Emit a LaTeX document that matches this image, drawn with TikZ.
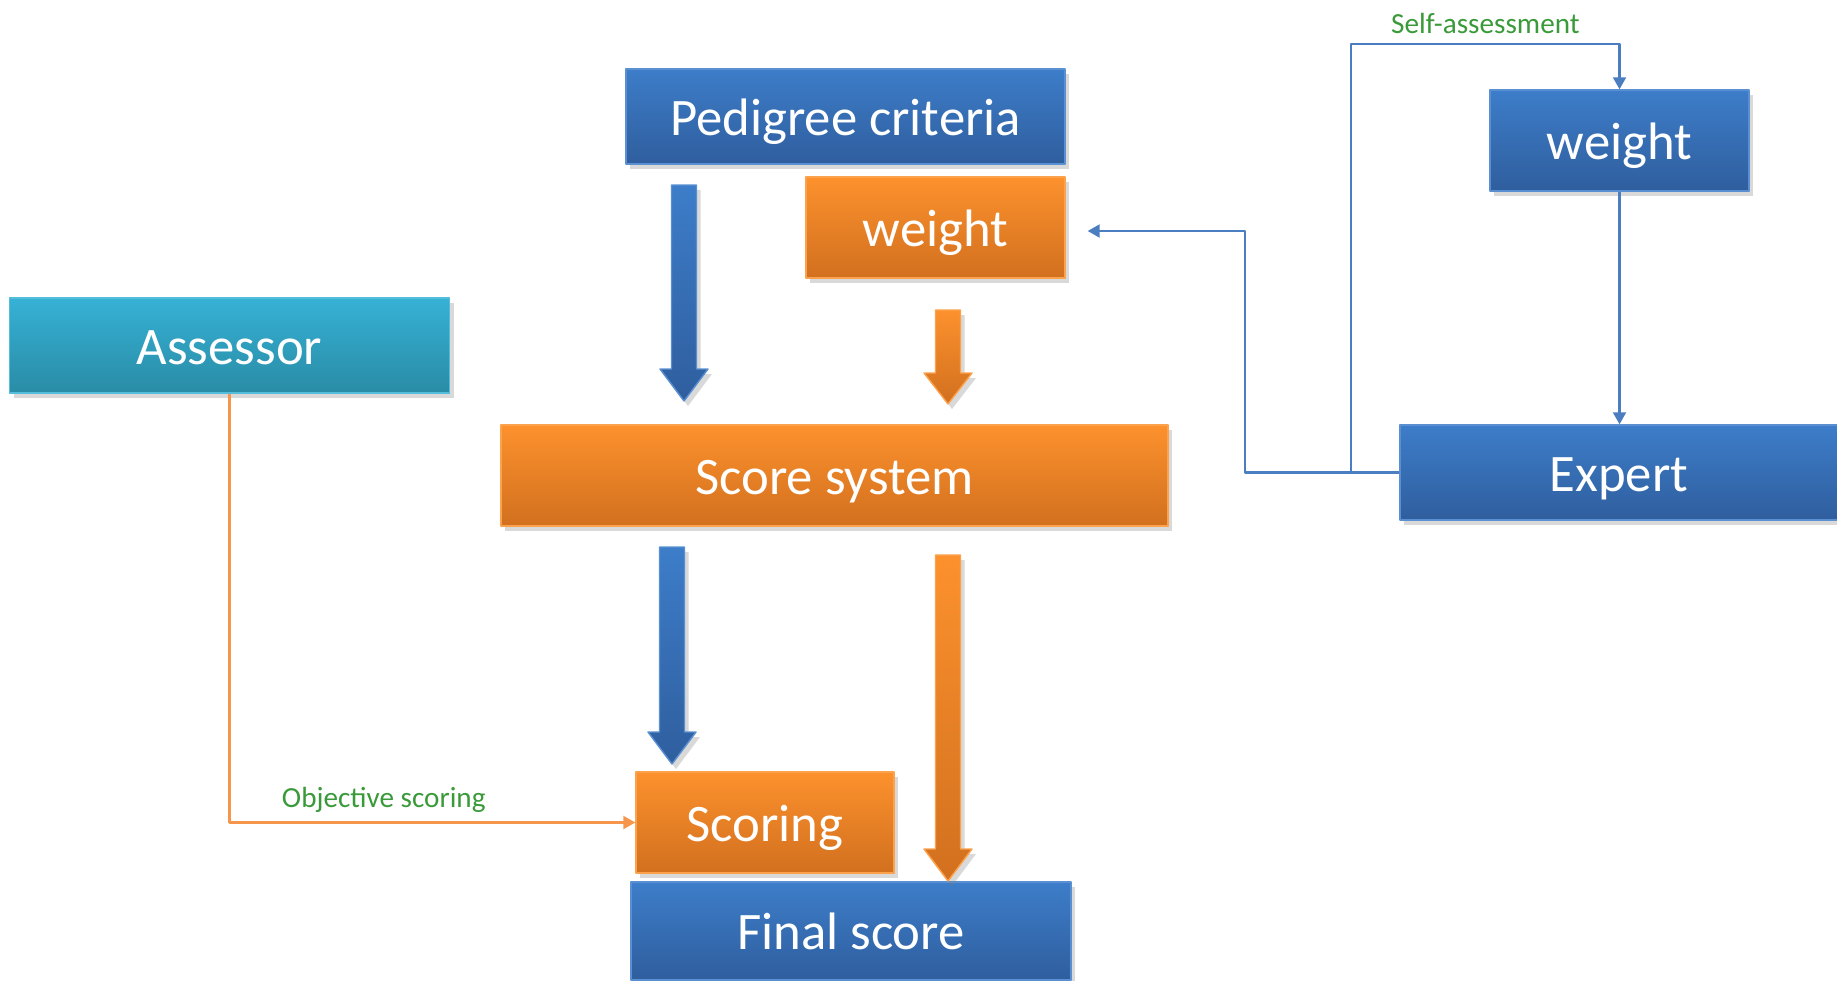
\documentclass[tikz,border=0pt]{standalone}
\usepackage{fontspec}
\setmainfont{Carlito}
\usetikzlibrary{arrows.meta,calc,shadows}
\definecolor{topblue}{RGB}{61,125,201}
\definecolor{botblue}{RGB}{47,94,158}
\definecolor{toporange}{RGB}{252,145,45}
\definecolor{botorange}{RGB}{210,112,31}
\definecolor{topcyan}{RGB}{54,177,213}
\definecolor{botcyan}{RGB}{41,140,166}
\definecolor{linkblue}{RGB}{74,126,193}
\definecolor{linkorange}{RGB}{246,150,76}
\definecolor{labelgreen}{RGB}{58,154,58}
\tikzset{
  softshadow/.style={drop shadow={shadow xshift=0.4mm, shadow yshift=-0.5mm, opacity=0.3}},
  box/.style={rectangle, inner sep=0pt, text=white, line width=0.4pt,
    text height=10.6pt, text depth=0pt,
    font=\fontsize{15}{18}\selectfont, softshadow},
  bluebox/.style={box, top color=topblue, bottom color=botblue, draw=topblue!85!white},
  orangebox/.style={box, top color=toporange, bottom color=botorange, draw=toporange!85!white},
  cyanbox/.style={box, top color=topcyan, bottom color=botcyan, draw=topcyan!85!white},
  bluelink/.style={draw=linkblue, line width=0.6pt, -{Triangle[width=1.3mm,length=1.2mm]}},
  orangelink/.style={draw=linkorange, line width=0.6pt, -{Triangle[width=1.3mm,length=1.2mm]}},
  linklabel/.style={above=1.5pt, inner sep=1pt, text=labelgreen, font=\fontsize{8.3}{10}\selectfont}
}
\begin{document}
\begin{tikzpicture}[x=0.1mm, y=-0.1mm, line join=round]
  \useasboundingbox (0,0) rectangle (1837,980);
  % boxes
  \node[bluebox, minimum width=43.9mm, minimum height=9.5mm] (pedigree) at (845.5,116.5) {Pedigree criteria};
  \node[orangebox, minimum width=25.9mm, minimum height=10.1mm] (wtleft) at (935.5,227.5) {weight};
  \node[cyanbox, minimum width=44mm, minimum height=9.5mm] (assessor) at (229.5,345.5) {Assessor};
  \node[orangebox, minimum width=66.7mm, minimum height=10.1mm] (scoresys) at (834.5,475.5) {Score system};
  \node[bluebox, minimum width=25.9mm, minimum height=10.1mm] (wtright) at (1619.5,140.5) {weight};
  \node[bluebox, minimum width=43.8mm, minimum height=9.5mm] (expert) at (1619,472.5) {Expert};
  \node[orangebox, minimum width=25.8mm, minimum height=10.1mm] (scoring) at (765,822.5) {Scoring};
  \node[bluebox, minimum width=44mm, minimum height=9.8mm] (final) at (851,931) {Final score};
  % block arrows
  \foreach \x/\ya/\yb/\yc/\c in {684/185/369/401/blue, 948/310/373/404/orange,
                                 672/547/732/764/blue, 948/555/849/881/orange}
    \path[top color=top\c, bottom color=bot\c, draw=top\c!85!white, softshadow]
      ({\x-12.5},\ya) -- ({\x+12.5},\ya) -- ({\x+12.5},\yb) -- ({\x+24},\yb)
      -- (\x,\yc) -- ({\x-24},\yb) -- ({\x-12.5},\yb) -- cycle;
  % thin connectors
  \coordinate (split) at ($(expert.west)+(-48,0)$);
  \coordinate (selfy) at (0,44);
  \draw[bluelink] (expert.west) -- ++(-154,0) |- ($(wtleft.east)+(22,3.5)$);
  \draw[bluelink] (split) -- (split |- selfy)
    -- node[linklabel] {Self-assessment} (wtright.north |- selfy) -- (wtright.north);
  \draw[bluelink] (wtright.south) -- (wtright.south |- expert.north);
  \draw[orangelink] (assessor.south) |- node[linklabel, pos=0.69] {Objective scoring} (scoring.west);
\end{tikzpicture}
\end{document}
